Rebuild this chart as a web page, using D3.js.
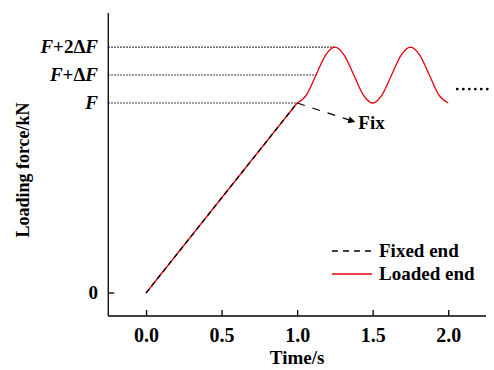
<!DOCTYPE html>
<html>
<head>
<meta charset="utf-8">
<script src="https://cdn.jsdelivr.net/npm/d3@7"></script>
<style>
  body { margin: 0; background: #fff; }
  svg { display: block; font-family: "Liberation Serif", "Times New Roman", serif; font-weight: bold; }
</style>
</head>
<body>
<div id="chart"></div>
<script>
const F = 1;
const dF = 0.147;

// loaded end: ramp to F at 1 s, then oscillates between F and F+2dF
const loadedTime = [0, 1.0, 1.0625, 1.125, 1.1875, 1.25, 1.3125, 1.375, 1.4375, 1.5,
  1.5625, 1.625, 1.6875, 1.75, 1.8125, 1.875, 1.9375, 2.0];
const loadedForce = [0, 1, 1.043, 1.147, 1.251, 1.294, 1.251, 1.147, 1.043, 1,
  1.043, 1.147, 1.251, 1.294, 1.251, 1.147, 1.043, 1];

// fixed end: ramp only
const fixedTime = [0, 1.0];
const fixedForce = [0, 1];

const xTicks = [0, 0.5, 1.0, 1.5, 2.0];
const yTicks = [
  {v: 0, parts: [["0", false]]},
  {v: F, parts: [["F", true]]},
  {v: F + dF, parts: [["F", true], ["+Δ", false], ["F", true]]},
  {v: F + 2 * dF, parts: [["F", true], ["+2Δ", false], ["F", true]]}
];

const width = 494, height = 370;

const x = d3.scaleLinear().domain([-0.25, 2.25]).range([108.25, 486]);
const y = d3.scaleLinear().domain([0, 1]).range([293, 103]);
const yBottom = 316, yTop = 13;

const svg = d3.select("#chart").append("svg")
    .attr("width", width)
    .attr("height", height);

// dotted guide lines from the axis to where the curve reaches each level
const guides = [
  {v: F, t: 1.0},
  {v: F + dF, t: 1.125},
  {v: F + 2 * dF, t: 1.25}
];
svg.append("g").selectAll("line")
  .data(guides)
  .join("line")
    .attr("x1", x(-0.25))
    .attr("x2", d => x(d.t))
    .attr("y1", d => y(d.v))
    .attr("y2", d => y(d.v))
    .attr("stroke", "#000")
    .attr("stroke-width", 1.1)
    .attr("stroke-dasharray", "1.5,1.5");

// axes
const xAxis = d3.axisBottom(x).tickValues(xTicks).tickSize(-6).tickFormat(d3.format(".1f")).tickPadding(12);
const gx = svg.append("g")
    .attr("transform", `translate(0,${yBottom})`)
    .call(xAxis);
gx.select(".domain").attr("d", `M${x(-0.25)},0H486`).attr("stroke-width", 1.3);
gx.selectAll(".tick line").attr("stroke-width", 1.3);
gx.selectAll(".tick text")
    .attr("font-family", "Liberation Serif, serif")
    .attr("font-weight", "bold")
    .attr("font-size", 20)
    .attr("fill", "#000");

svg.append("line")
    .attr("x1", x(-0.25)).attr("x2", x(-0.25))
    .attr("y1", yTop).attr("y2", yBottom)
    .attr("stroke", "#000").attr("stroke-width", 1.3);
svg.append("line")
    .attr("x1", x(-0.25)).attr("x2", x(-0.25) + 6)
    .attr("y1", y(0)).attr("y2", y(0))
    .attr("stroke", "#000").attr("stroke-width", 1.3);

const yLab = svg.append("g").selectAll("text")
  .data(yTicks)
  .join("text")
    .attr("x", 98)
    .attr("y", d => y(d.v) + 6)
    .attr("text-anchor", "end")
    .attr("font-size", 19);
yLab.selectAll("tspan")
  .data(d => d.parts)
  .join("tspan")
    .attr("font-style", d => d[1] ? "italic" : "normal")
    .text(d => d[0]);

// axis titles
svg.append("text")
    .attr("x", x(1.0))
    .attr("y", 364)
    .attr("text-anchor", "middle")
    .attr("font-size", 19)
    .text("Time/s");
svg.append("text")
    .attr("transform", `translate(29,170) rotate(-90)`)
    .attr("text-anchor", "middle")
    .attr("font-size", 18)
    .text("Loading force/kN");

// curves: ramp drawn straight, oscillation smoothed
const line = d3.line()
    .x(d => x(d[0]))
    .y(d => y(d[1]));
const smooth = d3.line()
    .x(d => x(d[0]))
    .y(d => y(d[1]))
    .curve(d3.curveMonotoneX);

const loaded = loadedTime.map((t, i) => [t, loadedForce[i]]);
const split = loadedTime.indexOf(1.0);

svg.append("path")
    .datum(loaded.slice(0, split + 1))
    .attr("fill", "none")
    .attr("stroke", "#e8000b")
    .attr("stroke-width", 1.3)
    .attr("d", line);
svg.append("path")
    .datum(loaded.slice(split))
    .attr("fill", "none")
    .attr("stroke", "#e8000b")
    .attr("stroke-width", 1.3)
    .attr("d", smooth);

svg.append("path")
    .datum(fixedTime.map((t, i) => [t, fixedForce[i]]))
    .attr("fill", "none")
    .attr("stroke", "#000")
    .attr("stroke-width", 1.3)
    .attr("stroke-dasharray", "5,4")
    .attr("d", line);

// "Fix" annotation arrow
const tip = [1.385, 0.9];
svg.append("defs").append("marker")
    .attr("id", "arrow")
    .attr("viewBox", "0 0 10 10")
    .attr("refX", 10).attr("refY", 5)
    .attr("markerWidth", 10).attr("markerHeight", 7)
    .attr("markerUnits", "userSpaceOnUse")
    .attr("orient", "auto")
  .append("path")
    .attr("d", "M0,0L10,5L0,10Z")
    .attr("fill", "#000");
svg.append("line")
    .attr("x1", x(1.0)).attr("y1", y(1))
    .attr("x2", x(tip[0])).attr("y2", y(tip[1]))
    .attr("stroke", "#000")
    .attr("stroke-width", 1.2)
    .attr("stroke-dasharray", "8,8")
    .attr("marker-end", "url(#arrow)");
svg.append("text")
    .attr("x", x(tip[0]) + 3)
    .attr("y", y(tip[1]) + 7)
    .attr("font-size", 19)
    .text("Fix");

// continuation dots
svg.append("line")
    .attr("x1", x(2.06)).attr("x2", x(2.29))
    .attr("y1", y(F + dF / 2)).attr("y2", y(F + dF / 2))
    .attr("stroke", "#000")
    .attr("stroke-width", 2.8)
    .attr("stroke-linecap", "round")
    .attr("stroke-dasharray", "0,6");

// legend
const legend = [
  {label: "Fixed end", color: "#000", dash: "6,5", y: 251},
  {label: "Loaded end", color: "#e8000b", dash: null, y: 274}
];
const lg = svg.append("g").selectAll("g")
  .data(legend)
  .join("g")
    .attr("transform", d => `translate(332,${d.y})`);
lg.append("line")
    .attr("x1", 0).attr("x2", 40)
    .attr("stroke", d => d.color)
    .attr("stroke-width", 1.3)
    .attr("stroke-dasharray", d => d.dash);
lg.append("text")
    .attr("x", 47)
    .attr("y", 6)
    .attr("font-size", 19)
    .text(d => d.label);
</script>
</body>
</html>
